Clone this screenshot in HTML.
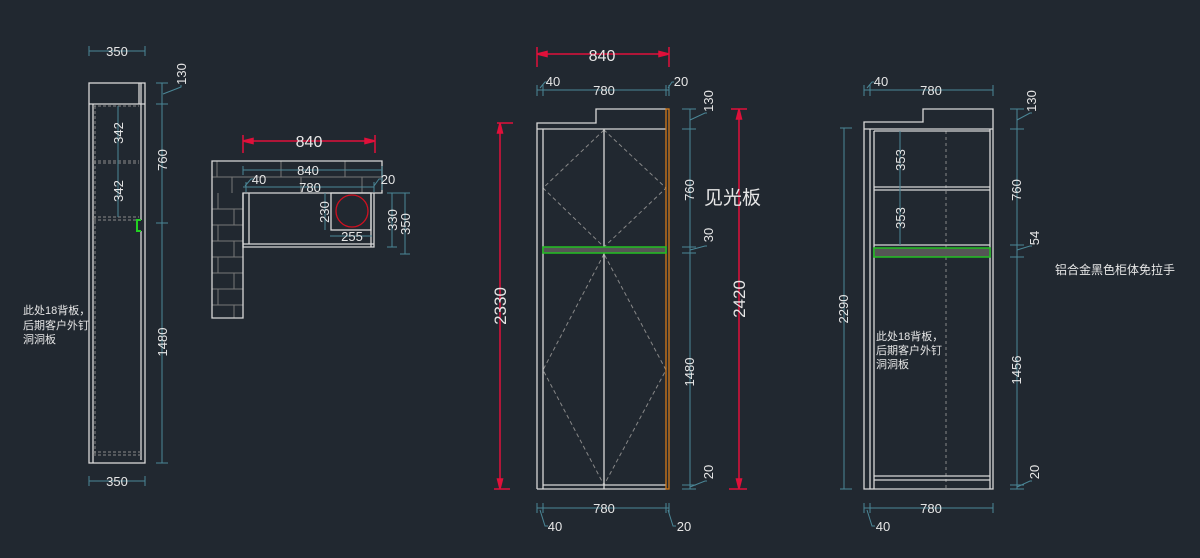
<!DOCTYPE html>
<html><head><meta charset="utf-8"><style>
html,body{margin:0;padding:0;background:#212830;}
svg{display:block}
text{font-family:"Liberation Sans","Noto Sans CJK SC",sans-serif;fill:#e6e6e6;}
</style></head><body>
<svg width="1200" height="558" viewBox="0 0 1200 558" xmlns="http://www.w3.org/2000/svg">
<rect width="1200" height="558" fill="#212830"/>

<!-- ===== LEFT SIDE VIEW ===== -->
<g fill="none" stroke="#d8d8d8" stroke-width="1.3">
<rect x="89" y="83" width="56" height="380"/>
<line x1="89" y1="104" x2="145" y2="104"/>
<line x1="139" y1="83" x2="139" y2="104"/>
<line x1="141" y1="83" x2="141" y2="220"/>
<line x1="141" y1="231" x2="141" y2="460"/>
<line x1="93" y1="104" x2="93" y2="463"/>
</g>
<g stroke="#8a8a8a" stroke-width="1" stroke-dasharray="3,2" fill="none">
<line x1="93" y1="106" x2="139" y2="106"/>
<line x1="93" y1="161" x2="139" y2="161"/>
<line x1="93" y1="163" x2="139" y2="163"/>
<line x1="93" y1="217" x2="139" y2="217"/>
<line x1="93" y1="220" x2="139" y2="220"/>
<line x1="93" y1="452" x2="141" y2="452"/>
<line x1="93" y1="455" x2="141" y2="455"/>
<line x1="95" y1="106" x2="95" y2="455"/>
</g>
<path d="M141 220 h-4 v11 h4" fill="none" stroke="#22d022" stroke-width="2"/>
<g stroke="#4b8797" stroke-width="1" fill="none">
<line x1="89" y1="51" x2="145" y2="51"/><line x1="89" y1="46" x2="89" y2="56"/><line x1="145" y1="46" x2="145" y2="56"/>
<line x1="89" y1="481" x2="145" y2="481"/><line x1="89" y1="476" x2="89" y2="486"/><line x1="145" y1="476" x2="145" y2="486"/>
<line x1="162" y1="83" x2="162" y2="463"/>
<line x1="156" y1="83" x2="168" y2="83"/><line x1="156" y1="104" x2="168" y2="104"/><line x1="156" y1="223" x2="168" y2="223"/><line x1="156" y1="463" x2="168" y2="463"/>
<polyline points="163,94 181,87 181,85"/>
<line x1="118" y1="106" x2="118" y2="217"/>
</g>
<g font-size="13" text-anchor="middle">
<text x="117" y="56">350</text>
<text x="117" y="486">350</text>
<text transform="translate(186,74) rotate(-90)">130</text>
<text transform="translate(167,160) rotate(-90)">760</text>
<text transform="translate(167,342) rotate(-90)">1480</text>
<text transform="translate(123,133) rotate(-90)">342</text><text transform="translate(123,191) rotate(-90)">342</text>
</g>
<g font-size="11"><text x="23" y="314">此处18背板，</text><text x="23" y="329">后期客户外钉</text><text x="23" y="343">洞洞板</text></g>

<!-- ===== PLAN VIEW ===== -->
<g fill="none" stroke="#777" stroke-width="1">
<line x1="212" y1="177" x2="382" y2="177"/>
<line x1="212" y1="209" x2="243" y2="209"/><line x1="212" y1="225" x2="243" y2="225"/><line x1="212" y1="241" x2="243" y2="241"/>
<line x1="212" y1="257" x2="243" y2="257"/><line x1="212" y1="273" x2="243" y2="273"/><line x1="212" y1="289" x2="243" y2="289"/><line x1="212" y1="305" x2="243" y2="305"/>
<line x1="217" y1="161" x2="217" y2="177"/><line x1="281" y1="161" x2="281" y2="177"/><line x1="345" y1="161" x2="345" y2="177"/>
<line x1="232" y1="177" x2="232" y2="193"/><line x1="301" y1="177" x2="301" y2="193"/><line x1="362" y1="177" x2="362" y2="193"/>
<line x1="218" y1="193" x2="218" y2="209"/><line x1="234" y1="209" x2="234" y2="225"/><line x1="218" y1="225" x2="218" y2="241"/><line x1="234" y1="241" x2="234" y2="257"/><line x1="218" y1="257" x2="218" y2="273"/><line x1="234" y1="273" x2="234" y2="289"/><line x1="218" y1="289" x2="218" y2="305"/><line x1="234" y1="305" x2="234" y2="318"/>
</g>
<g fill="none" stroke="#d8d8d8" stroke-width="1.3">
<path d="M212 161 H382 V193 H243 V318 H212 Z"/>
<path d="M243 193 V247 H374 V193"/>
<line x1="249" y1="193" x2="249" y2="244"/>
<line x1="243" y1="244" x2="374" y2="244"/>
<line x1="371" y1="193" x2="371" y2="247"/>
<rect x="331" y="193" width="40" height="37"/>
</g>
<circle cx="352" cy="211" r="16" fill="none" stroke="#d01020" stroke-width="1.3"/>
<g stroke="#e0103a" stroke-width="1.5" fill="#e0103a">
<line x1="243" y1="141" x2="375" y2="141"/><line x1="243" y1="135" x2="243" y2="153"/><line x1="375" y1="135" x2="375" y2="153"/>
<path d="M243 141 l10 -2.5 v5 z"/><path d="M375 141 l-10 -2.5 v5 z"/>
</g>
<text x="309" y="147" font-size="16" text-anchor="middle">840</text>
<g stroke="#4b8797" stroke-width="1" fill="none">
<line x1="243" y1="170" x2="382" y2="170"/><line x1="243" y1="166" x2="243" y2="175"/><line x1="382" y1="166" x2="382" y2="190"/>
<line x1="243" y1="187" x2="374" y2="187"/><line x1="246" y1="182" x2="246" y2="192"/><line x1="374" y1="182" x2="374" y2="192"/>
<polyline points="245,186 251,179 254,179"/><polyline points="374,186 379,179 381,179"/>
<line x1="325" y1="193" x2="325" y2="230"/><line x1="330" y1="236" x2="372" y2="236"/>
<line x1="392" y1="193" x2="392" y2="247"/><line x1="405" y1="193" x2="405" y2="254"/>
<line x1="387" y1="193" x2="410" y2="193"/><line x1="387" y1="247" x2="397" y2="247"/><line x1="400" y1="254" x2="410" y2="254"/>
</g>
<g font-size="13" text-anchor="middle">
<text x="308" y="175">840</text><text x="310" y="192">780</text>
<text x="259" y="184">40</text><text x="388" y="184">20</text>
<text transform="translate(329,212) rotate(-90)">230</text>
<text x="352" y="241">255</text>
<text transform="translate(397,220) rotate(-90)">330</text>
<text transform="translate(410,224) rotate(-90)">350</text>
</g>

<!-- ===== MIDDLE FRONT ===== -->
<g stroke="#888" stroke-width="1" stroke-dasharray="4,3" fill="none">
<polyline points="604,130 543,188 604,247 666,188 604,130"/>
<polyline points="604,254 543,370 604,485 666,370 604,254"/>
</g>
<g fill="none" stroke="#d8d8d8" stroke-width="1.3">
<path d="M537 489 V123 H596 V109 H666"/>
<line x1="537" y1="489" x2="666" y2="489"/>
<line x1="537" y1="129" x2="666" y2="129"/>
<line x1="543" y1="129" x2="543" y2="489"/>
<line x1="604" y1="129" x2="604" y2="489"/>
<line x1="543" y1="485" x2="666" y2="485"/>
</g>
<rect x="666" y="109" width="3" height="380" fill="none" stroke="#d47a1a" stroke-width="1.3"/>
<rect x="543" y="247" width="123" height="6" fill="#555" stroke="#22c022" stroke-width="1.5"/>
<g stroke="#e0103a" stroke-width="1.5" fill="#e0103a">
<line x1="537" y1="54" x2="669" y2="54"/><line x1="537" y1="47" x2="537" y2="67"/><line x1="669" y1="47" x2="669" y2="67"/>
<path d="M537 54 l10 -2.5 v5 z"/><path d="M669 54 l-10 -2.5 v5 z"/>
<line x1="500" y1="123" x2="500" y2="489"/><line x1="497" y1="123" x2="513" y2="123"/><line x1="494" y1="489" x2="510" y2="489"/>
<path d="M500 123 l-2.5 10 h5 z"/><path d="M500 489 l-2.5 -10 h5 z"/>
<line x1="739" y1="109" x2="739" y2="489"/><line x1="731" y1="109" x2="747" y2="109"/><line x1="729" y1="489" x2="747" y2="489"/>
<path d="M739 109 l-2.5 10 h5 z"/><path d="M739 489 l-2.5 -10 h5 z"/>
</g>
<text font-size="17" text-anchor="middle" transform="translate(506,306) rotate(-90)">2330</text>
<text font-size="17" text-anchor="middle" transform="translate(745,299) rotate(-90)">2420</text>
<text x="602" y="61" font-size="16" text-anchor="middle">840</text>
<text x="704" y="204" font-size="19" font-family="Noto Sans CJK SC,sans-serif">见光板</text>
<g stroke="#4b8797" stroke-width="1" fill="none">
<line x1="537" y1="90" x2="669" y2="90"/><line x1="537" y1="85" x2="537" y2="96"/><line x1="543" y1="85" x2="543" y2="96"/><line x1="666" y1="85" x2="666" y2="96"/><line x1="669" y1="85" x2="669" y2="96"/>
<polyline points="540,88 545,82 547,82"/><polyline points="668,88 672,82 674,82"/>
<line x1="537" y1="508" x2="669" y2="508"/><line x1="537" y1="503" x2="537" y2="513"/><line x1="543" y1="503" x2="543" y2="513"/><line x1="666" y1="503" x2="666" y2="513"/><line x1="669" y1="503" x2="669" y2="513"/>
<polyline points="540,510 545,526 548,526"/><polyline points="668,510 673,526 676,526"/>
<line x1="690" y1="109" x2="690" y2="489"/>
<line x1="682" y1="109" x2="696" y2="109"/><line x1="682" y1="129" x2="696" y2="129"/><line x1="682" y1="247" x2="696" y2="247"/><line x1="682" y1="253" x2="696" y2="253"/><line x1="682" y1="485" x2="696" y2="485"/><line x1="682" y1="489" x2="696" y2="489"/>
<polyline points="690,120 705,113 707,113"/><polyline points="690,250 705,246 707,246"/><polyline points="690,487 705,481 707,481"/>
</g>
<g font-size="13" text-anchor="middle">
<text x="604" y="95">780</text><text x="553" y="86">40</text><text x="681" y="86">20</text>
<text x="604" y="513">780</text><text x="555" y="531">40</text><text x="684" y="531">20</text>
<text transform="translate(713,101) rotate(-90)">130</text>
<text transform="translate(694,190) rotate(-90)">760</text>
<text transform="translate(713,235) rotate(-90)">30</text>
<text transform="translate(694,372) rotate(-90)">1480</text>
<text transform="translate(713,472) rotate(-90)">20</text>
</g>

<!-- ===== RIGHT FRONT ===== -->
<g stroke="#888" stroke-width="1" stroke-dasharray="3,3"><line x1="946" y1="131" x2="946" y2="489"/></g>
<g fill="none" stroke="#d8d8d8" stroke-width="1.3">
<path d="M864 489 V122 H923 V109 H993 V489 Z"/>
<line x1="864" y1="129" x2="993" y2="129"/>
<line x1="870" y1="129" x2="870" y2="489"/>
<line x1="874" y1="131" x2="874" y2="489"/>
<line x1="874" y1="131" x2="990" y2="131"/>
<line x1="990" y1="129" x2="990" y2="489"/>
<line x1="874" y1="187" x2="990" y2="187"/><line x1="874" y1="190" x2="990" y2="190"/>
<line x1="874" y1="245" x2="990" y2="245"/>
<line x1="874" y1="476" x2="990" y2="476"/><line x1="874" y1="480" x2="990" y2="480"/>
</g>
<rect x="874" y="248" width="116" height="9" fill="#555" stroke="#22c022" stroke-width="1.5"/>
<g stroke="#4b8797" stroke-width="1" fill="none">
<line x1="864" y1="90" x2="993" y2="90"/><line x1="864" y1="85" x2="864" y2="96"/><line x1="870" y1="85" x2="870" y2="96"/><line x1="993" y1="85" x2="993" y2="96"/>
<polyline points="867,88 872,82 874,82"/>
<line x1="864" y1="508" x2="993" y2="508"/><line x1="864" y1="503" x2="864" y2="513"/><line x1="870" y1="503" x2="870" y2="513"/><line x1="993" y1="503" x2="993" y2="513"/>
<polyline points="867,510 872,526 875,526"/>
<line x1="844" y1="128" x2="844" y2="489"/><line x1="840" y1="128" x2="852" y2="128"/><line x1="840" y1="489" x2="852" y2="489"/>
<line x1="1017" y1="109" x2="1017" y2="489"/>
<line x1="1010" y1="109" x2="1024" y2="109"/><line x1="1010" y1="129" x2="1024" y2="129"/><line x1="1010" y1="245" x2="1024" y2="245"/><line x1="1010" y1="257" x2="1024" y2="257"/><line x1="1010" y1="485" x2="1024" y2="485"/><line x1="1010" y1="489" x2="1024" y2="489"/>
<polyline points="1017,120 1030,113 1032,113"/><polyline points="1017,250 1030,246 1032,246"/><polyline points="1017,487 1030,481 1032,481"/>
<line x1="900" y1="131" x2="900" y2="245"/>
</g>
<g font-size="13" text-anchor="middle">
<text x="931" y="95">780</text><text x="881" y="86">40</text>
<text x="931" y="513">780</text><text x="883" y="531">40</text>
<text transform="translate(1036,101) rotate(-90)">130</text>
<text transform="translate(1021,190) rotate(-90)">760</text>
<text transform="translate(1039,238) rotate(-90)">54</text>
<text transform="translate(1021,370) rotate(-90)">1456</text>
<text transform="translate(1039,472) rotate(-90)">20</text>
<text transform="translate(848,309) rotate(-90)">2290</text>
<text transform="translate(905,160) rotate(-90)">353</text>
<text transform="translate(905,218) rotate(-90)">353</text>
</g>
<g font-size="11"><text x="876" y="340">此处18背板，</text><text x="876" y="354">后期客户外钉</text><text x="876" y="368">洞洞板</text></g>
<text x="1055" y="274" font-size="12">铝合金黑色柜体免拉手</text>
</svg>
</body></html>
